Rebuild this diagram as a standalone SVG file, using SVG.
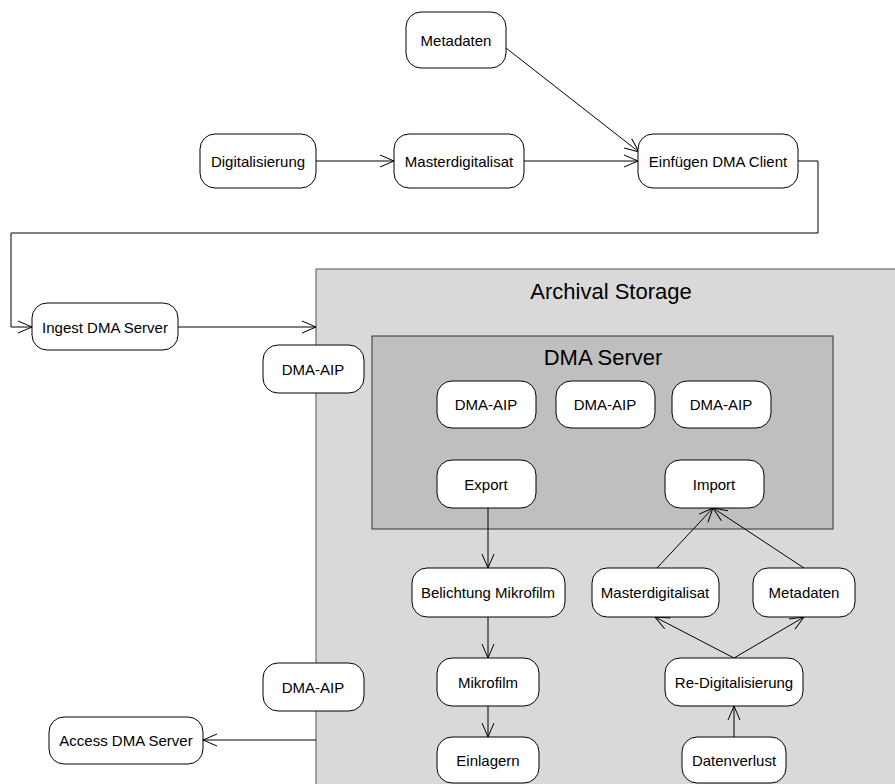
<svg xmlns="http://www.w3.org/2000/svg" width="895" height="784" viewBox="0 0 895 784">
<style>
.n{fill:#fff;stroke:#000;stroke-width:1}
.t{font-family:"Liberation Sans",Arial,sans-serif;font-size:15px;fill:#000;text-anchor:middle;dominant-baseline:central}
.c{fill:none;stroke:#000;stroke-width:1}
</style>
<defs>
<marker id="a" markerUnits="userSpaceOnUse" markerWidth="16" markerHeight="14" refX="14" refY="6" orient="auto" overflow="visible">
<path d="M0,0 L14,6 L0,12" fill="none" stroke="#000" stroke-width="1"/>
</marker>
</defs>
<rect width="895" height="784" fill="#fff"/>
<g id="archival-storage">
<rect x="316" y="269" width="600" height="540" fill="#d9d9d9" stroke="#555" stroke-width="1"/>
<text x="611" y="291" font-family="Liberation Sans,Arial,sans-serif" font-size="22" text-anchor="middle" dominant-baseline="central">Archival Storage</text>
</g>
<g id="dma-server">
<rect x="372" y="336" width="461" height="193" fill="#bfbfbf" stroke="#333" stroke-width="1"/>
<text x="603" y="357" font-family="Liberation Sans,Arial,sans-serif" font-size="22" text-anchor="middle" dominant-baseline="central">DMA Server</text>
</g>
<g id="connectors">
<line class="c" x1="506" y1="48" x2="639" y2="152" marker-end="url(#a)"/>
<line class="c" x1="316" y1="161" x2="394" y2="161" marker-end="url(#a)"/>
<line class="c" x1="524" y1="161" x2="638" y2="161" marker-end="url(#a)"/>
<polyline class="c" points="798,161 818,161 818,233 11,233 11,327 32,327" marker-end="url(#a)"/>
<line class="c" x1="178" y1="327" x2="316" y2="327" marker-end="url(#a)"/>
<line class="c" x1="316" y1="740" x2="203" y2="740" marker-end="url(#a)"/>
<line class="c" x1="488" y1="508" x2="488" y2="568" marker-end="url(#a)"/>
<line class="c" x1="488" y1="617" x2="488" y2="658" marker-end="url(#a)"/>
<line class="c" x1="488" y1="706" x2="488" y2="737" marker-end="url(#a)"/>
<line class="c" x1="657" y1="568" x2="713" y2="508" marker-end="url(#a)"/>
<line class="c" x1="804" y1="568" x2="713" y2="508" marker-end="url(#a)"/>
<line class="c" x1="734" y1="658" x2="655" y2="617" marker-end="url(#a)"/>
<line class="c" x1="734" y1="658" x2="804" y2="617" marker-end="url(#a)"/>
<line class="c" x1="734" y1="737" x2="734" y2="706" marker-end="url(#a)"/>
</g>
<g id="metadaten-top"><rect class="n" x="406" y="12" width="100" height="56" rx="15"/><text class="t" x="456" y="40">Metadaten</text></g>
<g id="digitalisierung"><rect class="n" x="200" y="134" width="116" height="54" rx="15"/><text class="t" x="258" y="161">Digitalisierung</text></g>
<g id="masterdigitalisat-top"><rect class="n" x="394" y="134" width="130" height="54" rx="15"/><text class="t" x="459" y="161">Masterdigitalisat</text></g>
<g id="einfuegen"><rect class="n" x="638" y="134" width="160" height="54" rx="15"/><text class="t" x="718" y="161">Einfügen DMA Client</text></g>
<g id="ingest"><rect class="n" x="32" y="303" width="146" height="47" rx="15"/><text class="t" x="105" y="327">Ingest DMA Server</text></g>
<g id="dma-aip-left-1"><rect class="n" x="263" y="345" width="101" height="48" rx="15"/><text class="t" x="313" y="369">DMA-AIP</text></g>
<g id="dma-aip-1"><rect class="n" x="437" y="381" width="99" height="47" rx="15"/><text class="t" x="486" y="404">DMA-AIP</text></g>
<g id="dma-aip-2"><rect class="n" x="556" y="381" width="99" height="47" rx="15"/><text class="t" x="605" y="404">DMA-AIP</text></g>
<g id="dma-aip-3"><rect class="n" x="672" y="381" width="99" height="47" rx="15"/><text class="t" x="721" y="404">DMA-AIP</text></g>
<g id="export"><rect class="n" x="437" y="460" width="99" height="48" rx="15"/><text class="t" x="486" y="484">Export</text></g>
<g id="import"><rect class="n" x="665" y="460" width="99" height="48" rx="15"/><text class="t" x="714" y="484">Import</text></g>
<g id="belichtung"><rect class="n" x="412" y="568" width="153" height="49" rx="15"/><text class="t" x="488" y="592">Belichtung Mikrofilm</text></g>
<g id="masterdigitalisat-low"><rect class="n" x="592" y="568" width="127" height="49" rx="15"/><text class="t" x="655" y="592">Masterdigitalisat</text></g>
<g id="metadaten-low"><rect class="n" x="753" y="568" width="102" height="49" rx="15"/><text class="t" x="804" y="592">Metadaten</text></g>
<g id="mikrofilm"><rect class="n" x="437" y="658" width="102" height="48" rx="15"/><text class="t" x="488" y="682">Mikrofilm</text></g>
<g id="re-digitalisierung"><rect class="n" x="665" y="658" width="138" height="48" rx="15"/><text class="t" x="734" y="682">Re-Digitalisierung</text></g>
<g id="dma-aip-left-2"><rect class="n" x="263" y="663" width="101" height="48" rx="15"/><text class="t" x="313" y="687">DMA-AIP</text></g>
<g id="access"><rect class="n" x="49" y="717" width="154" height="47" rx="15"/><text class="t" x="126" y="740">Access DMA Server</text></g>
<g id="einlagern"><rect class="n" x="437" y="737" width="102" height="46" rx="15"/><text class="t" x="488" y="760">Einlagern</text></g>
<g id="datenverlust"><rect class="n" x="682" y="737" width="104" height="46" rx="15"/><text class="t" x="734" y="760">Datenverlust</text></g>
</svg>
